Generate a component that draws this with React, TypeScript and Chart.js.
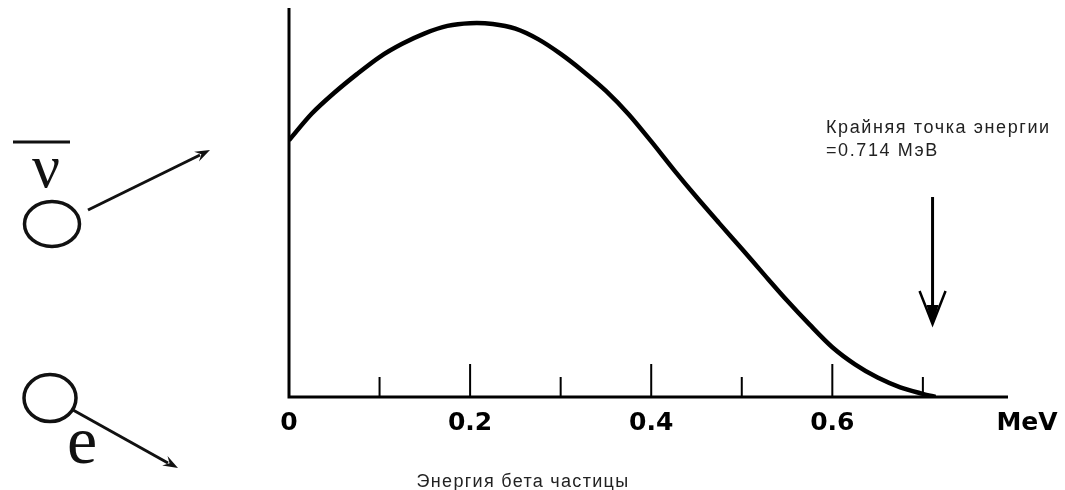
import React, { useEffect, useRef } from "react";
import { Chart, registerables } from "chart.js";

Chart.register(...registerables);

// Beta spectrum: energy in MeV, relative intensity
const energy = [
  0, 0.025, 0.05, 0.075, 0.1, 0.125, 0.15, 0.175, 0.2, 0.225, 0.25, 0.275, 0.3, 0.325, 0.35,
  0.375, 0.4, 0.425, 0.45, 0.475, 0.5, 0.525, 0.55, 0.575, 0.6, 0.625, 0.65, 0.675, 0.7, 0.714,
];
const intensity = [
  0.66, 0.728, 0.782, 0.83, 0.874, 0.908, 0.935, 0.954, 0.961, 0.959, 0.947, 0.92, 0.882, 0.837, 0.787,
  0.727, 0.657, 0.584, 0.514, 0.447, 0.381, 0.314, 0.248, 0.186, 0.128, 0.084, 0.05, 0.025, 0.008, 0,
];

const minorTicks = [0.1, 0.3, 0.5, 0.7];
const majorTicks = [0.2, 0.4, 0.6];
const tickLabelValues = [0, 0.2, 0.4, 0.6];
const tickLabels = ["0", "0.2", "0.4", "0.6"];
const unitLabel = "MeV";
const axisTitle = "Энергия бета частицы";
const endpointEnergy = 0.714;
const endpointText = ["Крайняя точка энергии", "=0.714 МэВ"];

function arrowHead(ctx: CanvasRenderingContext2D, x1: number, y1: number, x2: number, y2: number, len: number, spread: number) {
  const a = Math.atan2(y2 - y1, x2 - x1);
  ctx.beginPath();
  ctx.moveTo(x2, y2);
  ctx.lineTo(x2 - len * Math.cos(a - spread), y2 - len * Math.sin(a - spread));
  ctx.lineTo(x2 - len * 0.6 * Math.cos(a), y2 - len * 0.6 * Math.sin(a));
  ctx.lineTo(x2 - len * Math.cos(a + spread), y2 - len * Math.sin(a + spread));
  ctx.closePath();
  ctx.fill();
}

const decorPlugin = {
  id: "decor",
  afterDatasetsDraw(chart: any) {
    const ctx: CanvasRenderingContext2D = chart.ctx;
    const xs = chart.scales.x;
    const ys = chart.scales.y;
    const x0 = xs.getPixelForValue(0);
    const y0 = ys.getPixelForValue(0);
    const yTop = ys.getPixelForValue(ys.max);
    const xEnd = xs.getPixelForValue(xs.max);
    ctx.save();
    ctx.strokeStyle = "#000";
    ctx.fillStyle = "#000";
    ctx.lineCap = "butt";
    // axes
    ctx.lineWidth = 3;
    ctx.beginPath();
    ctx.moveTo(x0, yTop);
    ctx.lineTo(x0, y0 + 1.5);
    ctx.moveTo(x0, y0);
    ctx.lineTo(xEnd, y0);
    ctx.stroke();
    // ticks (pointing up into the plot)
    ctx.lineWidth = 2;
    ctx.beginPath();
    minorTicks.forEach((v) => {
      const px = xs.getPixelForValue(v);
      ctx.moveTo(px, y0);
      ctx.lineTo(px, y0 - 20);
    });
    majorTicks.forEach((v) => {
      const px = xs.getPixelForValue(v);
      ctx.moveTo(px, y0);
      ctx.lineTo(px, y0 - 33);
    });
    ctx.stroke();
    // tick labels
    ctx.font = "bold 25px 'DejaVu Sans'";
    ctx.textAlign = "center";
    ctx.textBaseline = "middle";
    tickLabelValues.forEach((v, i) => {
      ctx.fillText(tickLabels[i], xs.getPixelForValue(v), y0 + 26);
    });
    ctx.fillText(unitLabel, xEnd + 19, y0 + 26);
    // axis title
    ctx.fillStyle = "#222";
    ctx.font = "18px 'Liberation Sans'";
    (ctx as any).letterSpacing = "1.3px";
    ctx.fillText(axisTitle, 523, 482);
    // endpoint annotation
    ctx.textAlign = "left";
    (ctx as any).letterSpacing = "1.6px";
    ctx.fillText(endpointText[0], 826, 128);
    ctx.fillText(endpointText[1], 826, 151);
    (ctx as any).letterSpacing = "0px";
    const ex = xs.getPixelForValue(endpointEnergy) - 3;
    ctx.strokeStyle = "#000";
    ctx.fillStyle = "#000";
    ctx.lineWidth = 3;
    ctx.beginPath();
    ctx.moveTo(ex, 197);
    ctx.lineTo(ex, 320);
    ctx.stroke();
    ctx.lineWidth = 2.5;
    ctx.beginPath();
    ctx.moveTo(ex - 13, 291);
    ctx.lineTo(ex, 324);
    ctx.lineTo(ex + 13, 291);
    ctx.stroke();
    ctx.beginPath();
    ctx.moveTo(ex - 6, 305);
    ctx.lineTo(ex, 325);
    ctx.lineTo(ex + 6, 305);
    ctx.closePath();
    ctx.fill();

    // left decorations: antineutrino
    ctx.strokeStyle = "#111";
    ctx.fillStyle = "#111";
    ctx.lineWidth = 3;
    ctx.beginPath();
    ctx.moveTo(13, 142);
    ctx.lineTo(70, 142);
    ctx.stroke();
    ctx.textAlign = "center";
    ctx.textBaseline = "alphabetic";
    ctx.font = "62px 'Liberation Serif'";
    ctx.fillText("ν", 46, 187);
    ctx.lineWidth = 3.5;
    ctx.beginPath();
    ctx.ellipse(52, 224, 27.5, 22.5, 0, 0, Math.PI * 2);
    ctx.stroke();
    ctx.lineWidth = 3;
    ctx.beginPath();
    ctx.moveTo(88, 210);
    ctx.lineTo(200, 155);
    ctx.stroke();
    arrowHead(ctx, 88, 210, 210, 150, 16, 0.35);
    // electron
    ctx.lineWidth = 3.5;
    ctx.beginPath();
    ctx.ellipse(50, 398, 26, 23.5, 0, 0, Math.PI * 2);
    ctx.stroke();
    ctx.lineWidth = 3;
    ctx.beginPath();
    ctx.moveTo(73, 410);
    ctx.lineTo(168, 463);
    ctx.stroke();
    arrowHead(ctx, 73, 410, 178, 468, 16, 0.35);
    ctx.font = "68px 'Liberation Serif'";
    ctx.fillText("e", 82, 463);
    ctx.restore();
  },
};

export default function App() {
  const ref = useRef<HTMLCanvasElement>(null);
  useEffect(() => {
    if (!ref.current) return;
    const chart = new Chart(ref.current, {
      type: "line",
      data: {
        datasets: [
          {
            data: energy.map((e, i) => ({ x: e, y: intensity[i] })),
            borderColor: "#000",
            borderWidth: 4.5,
            pointRadius: 0,
            tension: 0.3,
            fill: false,
          },
        ],
      },
      options: {
        animation: false,
        responsive: true,
        maintainAspectRatio: false,
        layout: { padding: { left: 289, right: 57, top: 8, bottom: 93 } },
        plugins: { legend: { display: false }, tooltip: { enabled: false } },
        scales: {
          x: { type: "linear", display: false, min: 0, max: 0.794 },
          y: { type: "linear", display: false, min: 0, max: 1 },
        },
      },
      plugins: [decorPlugin],
    });
    return () => chart.destroy();
  }, []);
  return (
    <div style={{ position: "fixed", left: 0, top: 0, width: 1065, height: 490, background: "#fff" }}>
      <canvas ref={ref} />
    </div>
  );
}
